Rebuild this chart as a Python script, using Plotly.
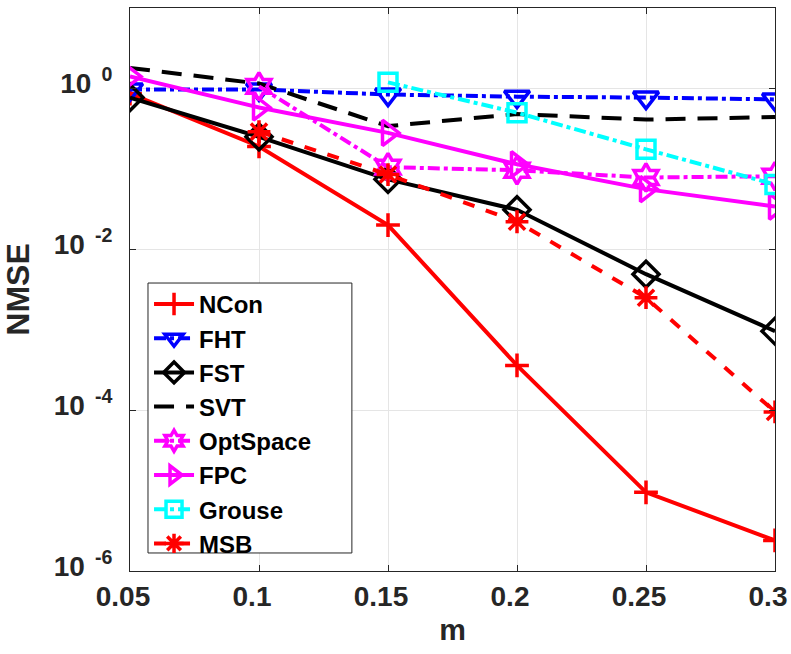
import plotly.graph_objects as go

m = [0.05, 0.1, 0.15, 0.2, 0.25, 0.3]

ncon = [0.86, 0.19, 0.020, 3.6e-4, 9.5e-6, 2.4e-6]
fht = [0.97, 0.97, 0.84, 0.79, 0.77, 0.73]
fst = [0.77, 0.25, 0.074, 0.031, 0.0049, 9.6e-4]
svt = [1.8, 1.15, 0.34, 0.48, 0.41, 0.44]
optspace = [None, 1.06, 0.105, 0.096, 0.078, 0.081]
fpc = [1.41, 0.58, 0.28, 0.114, 0.056, 0.034]
grouse = [None, None, 1.19, 0.50, 0.175, 0.064]
msb = [None, 0.29, 0.085, 0.022, 0.0025, 9.5e-5]

tick_vals = [1e-6, 1e-4, 1e-2, 1]
tick_text = ["10\u00a0\u200a<sup>-6</sup>", "10\u00a0\u200a<sup>-4</sup>",
             "10\u00a0\u200a<sup>-2</sup>", "10\u00a0\u200a<sup>0</sup>"]
x_ticks = [0.05, 0.1, 0.15, 0.2, 0.25, 0.3]
x_text = ["0.05", "0.1", "0.15", "0.2", "0.25", "0.3"]

series = [
    ("NCon", ncon, "red", "solid", "cross-thin-open", 17),
    ("FHT", fht, "blue", "dashdot", "triangle-down-open", 22),
    ("FST", fst, "black", "solid", "diamond-open", 20),
    ("SVT", svt, "black", "20px,12px", None, 0),
    ("OptSpace", optspace, "magenta", "dashdot", "hexagram-open", 21),
    ("FPC", fpc, "magenta", "solid", "triangle-right-open", 22),
    ("Grouse", grouse, "cyan", "dashdot", "square-open", 18),
    ("MSB", msb, "red", "dash", "asterisk-open", 19),
]

fig = go.Figure()
for name, ys, col, dash, sym, size in series:
    if sym is None:
        fig.add_trace(go.Scatter(x=m, y=ys, name=name, mode="lines",
                                 line=dict(color=col, width=4, dash=dash)))
    else:
        fig.add_trace(go.Scatter(x=m, y=ys, name=name, mode="lines+markers",
                                 line=dict(color=col, width=4, dash=dash),
                                 marker=dict(symbol=sym, size=size, color=col,
                                             line=dict(width=3.5, color=col))))

axis_common = dict(
    showline=True, linecolor="#262626", linewidth=1, mirror="ticks",
    ticks="inside", ticklen=6, tickcolor="#262626",
    showgrid=True, gridcolor="#e5e5e5", gridwidth=1, zeroline=False,
    automargin=False,
    tickfont=dict(family="Liberation Sans", size=28, color="#262626", weight="bold"),
)

fig.update_xaxes(range=[0.049999, 0.300001], tickvals=x_ticks, ticktext=x_text,
                 ticklabelshift=-7,
                 title=dict(text="m", font=dict(family="Liberation Sans", size=30,
                                                color="#262626", weight="bold"),
                            standoff=8),
                 **axis_common)
fig.update_yaxes(type="log", range=[-6, 1], tickvals=tick_vals, ticktext=tick_text,
                 ticklabelshift=-5, ticklabelstandoff=11,
                 title=dict(text="NMSE", font=dict(family="Liberation Sans", size=32,
                                                   color="#262626", weight="bold"),
                            standoff=16),
                 **axis_common)

fig.add_shape(type="rect", xref="paper", yref="paper",
              x0=0.0279, x1=0.344, y0=0.032, y1=0.5115,
              fillcolor="white", line=dict(color="#262626", width=1), layer="above")

fig.update_layout(
    width=791, height=654,
    margin=dict(l=130, r=16, t=8, b=83, autoexpand=False),
    plot_bgcolor="white", paper_bgcolor="white",
    legend=dict(x=0.0295, y=0.5135, xanchor="left", yanchor="top",
                bgcolor="rgba(0,0,0,0)", borderwidth=0,
                font=dict(family="Liberation Sans", size=24, color="black", weight="bold"),
                itemwidth=40, tracegroupgap=0),
    showlegend=True,
)

fig.write_html("out.html")
